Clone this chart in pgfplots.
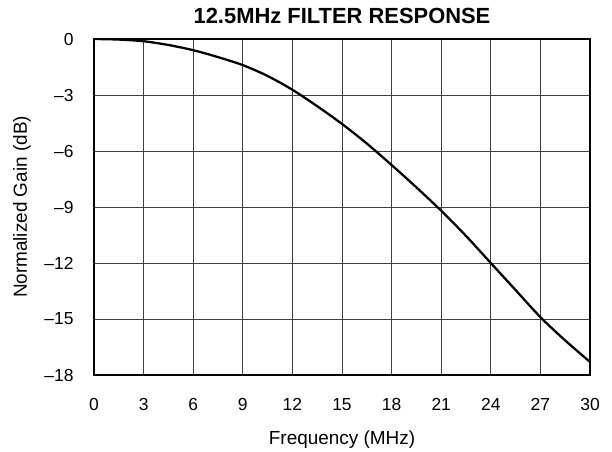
\documentclass[border=0pt]{standalone}
\usepackage{pgfplots}
\pgfplotsset{compat=1.18}
\usepackage{fontspec}
\setmainfont{Liberation Sans}
\begin{document}
\begin{tikzpicture}
\useasboundingbox (-94bp,-77bp) rectangle (518bp,375bp);
\begin{axis}[
  at={(0,0)}, anchor=south west,
  scale only axis, width=496bp, height=336bp,
  xmin=0, xmax=30, ymin=-18, ymax=0,
  xtick={0,3,...,30},
  ytick={-18,-15,-12,-9,-6,-3,0},
  yticklabels={–18,–15,–12,–9,–6,–3,0},
  major tick length=0pt,
  grid=major,
  major grid style={black!75, line width=0.7pt},
  axis line style={line width=1.8pt},
  tick label style={font=\fontsize{17.5}{20}\selectfont},
  /pgf/number format/assume math mode=true,
  xticklabel style={anchor=north, yshift=-20bp},
  yticklabel style={anchor=east, xshift=-17bp},
  xlabel={Frequency (MHz)},
  ylabel={Normalized Gain (dB)},
  label style={font=\fontsize{19}{22}\selectfont},
  xlabel style={at={(axis description cs:0.5,0)}, anchor=base, yshift=-69bp},
  ylabel style={at={(axis description cs:-0.145,0.5)}, anchor=center},
  title={\bfseries 12.5MHz FILTER RESPONSE},
  title style={font=\fontsize{22}{26}\selectfont\bfseries, anchor=base, at={(axis description cs:0.5,1)}, yshift=10bp},
]
\addplot[black, line width=2.3pt, smooth] coordinates {
(0,0) (1.5,-0.03) (3,-0.12) (4.5,-0.32) (6,-0.6) (7.5,-0.97) (9,-1.4)
(10.5,-1.98) (12,-2.72) (13.5,-3.6) (15,-4.55) (16.5,-5.6) (18,-6.75)
(19.5,-7.95) (21,-9.2) (22.5,-10.55) (24,-12.0) (25.5,-13.45) (27,-14.9)
(28.5,-16.15) (30,-17.3)
};
\end{axis}
\end{tikzpicture}
\end{document}
